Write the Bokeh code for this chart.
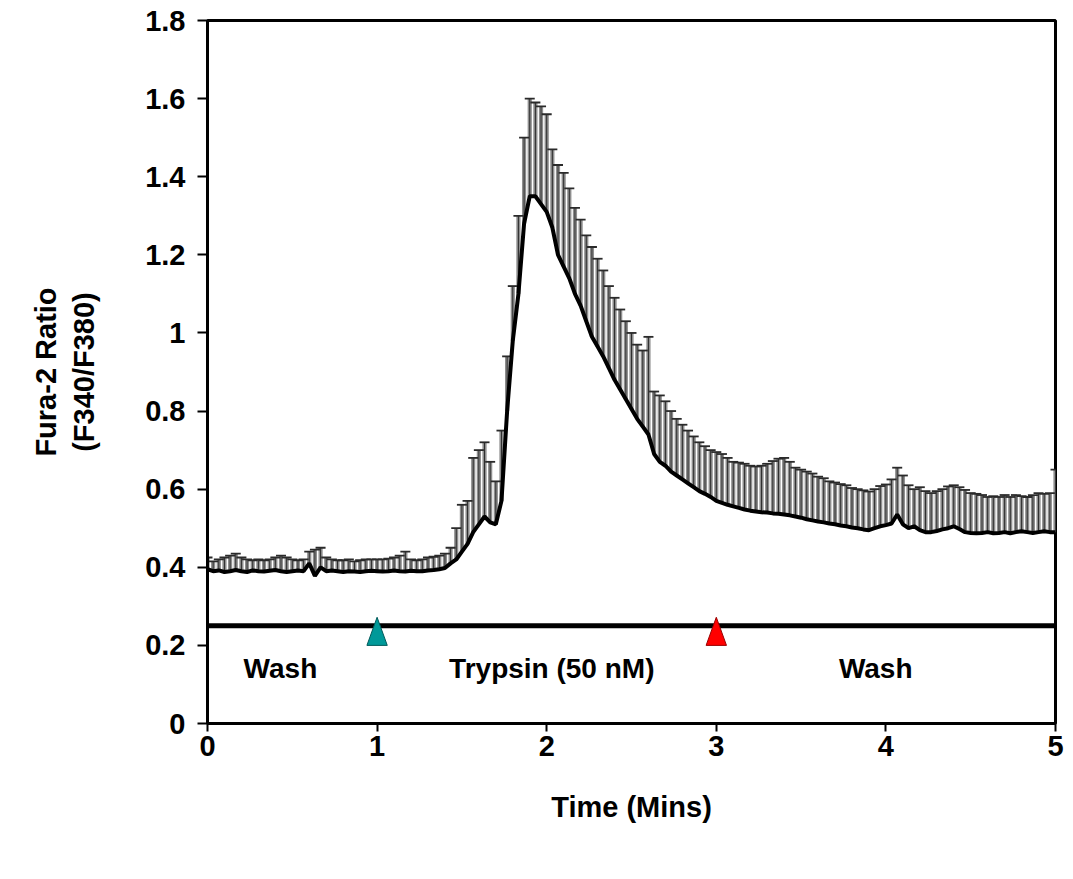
from bokeh.plotting import figure
from bokeh.models import Range1d, FixedTicker, ColumnDataSource
from bokeh.core.properties import value
from bokeh.embed import file_html
from bokeh.resources import INLINE

# ---------------- data ----------------
time_s = list(range(0, 301, 2))  # seconds

mean_ratio = [
    0.395, 0.390, 0.392, 0.388, 0.390, 0.393, 0.390, 0.388, 0.392, 0.390,
    0.389, 0.391, 0.393, 0.390, 0.388, 0.390, 0.392, 0.390, 0.410, 0.378,
    0.400, 0.390, 0.392, 0.390, 0.388, 0.390, 0.389, 0.388, 0.390, 0.391,
    0.390, 0.389, 0.390, 0.392, 0.390, 0.389, 0.391, 0.390, 0.390, 0.392,
    0.393, 0.395, 0.398, 0.410,
    0.420, 0.440, 0.460, 0.490, 0.510, 0.530, 0.515, 0.510, 0.570, 0.800,
    0.980, 1.100, 1.280, 1.350, 1.350, 1.330, 1.310, 1.270, 1.200, 1.170,
    1.140, 1.100, 1.070, 1.030, 0.990, 0.965, 0.940, 0.910, 0.880, 0.855,
    0.830, 0.805, 0.780, 0.760, 0.740, 0.690, 0.670, 0.660, 0.645, 0.635,
    0.625, 0.615, 0.605, 0.595, 0.588, 0.580, 0.570, 0.565, 0.560, 0.556,
    0.552, 0.548, 0.545, 0.543, 0.541, 0.540, 0.538, 0.537, 0.535, 0.533,
    0.530, 0.527, 0.523, 0.520, 0.517, 0.515, 0.512, 0.510, 0.507, 0.505,
    0.502, 0.500, 0.497, 0.495, 0.500, 0.505, 0.508, 0.512, 0.535, 0.510,
    0.500, 0.505, 0.495, 0.490, 0.490, 0.493, 0.497, 0.500, 0.505, 0.498,
    0.490, 0.488, 0.487, 0.488, 0.490, 0.487, 0.488, 0.490, 0.487, 0.490,
    0.492, 0.490, 0.488, 0.490, 0.492, 0.490, 0.490,
]

upper_ratio = [
    0.425, 0.415, 0.420, 0.425, 0.430, 0.435, 0.425, 0.420, 0.418, 0.420,
    0.418, 0.420, 0.425, 0.430, 0.425, 0.420, 0.418, 0.420, 0.440, 0.445,
    0.450, 0.425, 0.420, 0.418, 0.418, 0.420, 0.415, 0.418, 0.420, 0.420,
    0.420, 0.420, 0.422, 0.425, 0.430, 0.440, 0.420, 0.418, 0.420, 0.425,
    0.427, 0.430, 0.435, 0.450,
    0.500, 0.560, 0.570, 0.680, 0.700, 0.720, 0.670, 0.620, 0.750, 0.940,
    1.120, 1.300, 1.500, 1.600, 1.590, 1.580, 1.560, 1.470, 1.430, 1.410,
    1.370, 1.320, 1.290, 1.250, 1.220, 1.190, 1.160, 1.120, 1.090, 1.060,
    1.030, 1.000, 0.970, 0.955, 0.990, 0.850, 0.840, 0.825, 0.800, 0.780,
    0.765, 0.750, 0.735, 0.720, 0.710, 0.700, 0.695, 0.690, 0.680, 0.670,
    0.668, 0.665, 0.660, 0.658, 0.660, 0.665, 0.672, 0.678, 0.680, 0.670,
    0.655, 0.650, 0.645, 0.640, 0.632, 0.628, 0.620, 0.617, 0.613, 0.610,
    0.603, 0.600, 0.597, 0.594, 0.600, 0.608, 0.612, 0.625, 0.655, 0.635,
    0.610, 0.600, 0.605, 0.595, 0.590, 0.595, 0.600, 0.607, 0.610, 0.605,
    0.598, 0.590, 0.588, 0.585, 0.580, 0.582, 0.580, 0.585, 0.580, 0.585,
    0.582, 0.580, 0.585, 0.590, 0.588, 0.590, 0.650,
]

time_min = [t / 60.0 for t in time_s]

y_ticks = [0, 0.2, 0.4, 0.6, 0.8, 1, 1.2, 1.4, 1.6, 1.8]
y_tick_labels = ["0", "0.2", "0.4", "0.6", "0.8", "1", "1.2", "1.4", "1.6", "1.8"]
x_ticks = [0, 1, 2, 3, 4, 5]

bar_level = 0.25                 # treatment bar
treatment_start = [0.0]
treatment_end = [5.0]
marker_times = [1.0, 3.0]        # drug added / washed out
marker_colors = ["#009999", "#ff0000"]
marker_edges = ["#005a5a", "#990000"]

phase_labels = ["Wash", "Trypsin (50 nM)", "Wash"]
phase_label_x = [0.43, 2.03, 3.94]
phase_label_y = [0.14, 0.14, 0.14]

# ---------------- figure ----------------
FONT = "Liberation Sans"

p = figure(width=1073, height=879, output_backend="svg", toolbar_location=None,
           x_range=Range1d(0, 5), y_range=Range1d(0, 1.8),
           min_border_left=207, min_border_right=18, min_border_top=20,
           min_border_bottom=156)
p.background_fill_color = "white"
p.border_fill_color = "white"
p.outline_line_color = "black"
p.outline_line_width = 3
p.xgrid.visible = False
p.ygrid.visible = False

src = ColumnDataSource(dict(t=time_min, m=mean_ratio, u=upper_ratio))

# error bars (upper only)
p.segment(x0="t", y0="m", x1="t", y1="u", source=src,
          line_color="#8e8e8e", line_width=4.2)
p.segment(x0="t", y0="m", x1="t", y1="u", source=src,
          line_color="#2e2e2e", line_width=1)
p.scatter(x="t", y="u", source=src, marker="dash", size=10,
          line_color="#2a2a2a", line_width=1.8)

# mean trace
p.line(x="t", y="m", source=src, line_color="black", line_width=4)

# treatment bar
p.segment(x0=treatment_start, y0=[bar_level], x1=treatment_end, y1=[bar_level],
          line_color="black", line_width=5)

# triangles marking additions
half_w = 0.06
tri_base = 0.2
tri_top = 0.272
p.patches(xs=[[t - half_w, t, t + half_w] for t in marker_times],
          ys=[[tri_base, tri_top, tri_base] for _ in marker_times],
          fill_color=marker_colors, line_color=marker_edges, line_width=1)

# phase labels
p.text(x=phase_label_x, y=phase_label_y, text=phase_labels,
       text_font=value(FONT), text_font_style="bold", text_font_size="28px",
       text_color="black", text_align="center", text_baseline="middle")

# axes
p.xaxis.ticker = FixedTicker(ticks=x_ticks)
p.yaxis.ticker = FixedTicker(ticks=y_ticks)
p.yaxis.major_label_overrides = {t: l for t, l in zip(y_ticks, y_tick_labels)}
for ax in (p.xaxis, p.yaxis):
    ax.axis_line_width = 3
    ax.axis_line_color = "black"
    ax.major_tick_line_width = 2
    ax.major_tick_in = 0
    ax.minor_tick_line_color = None
    ax.major_label_text_font = FONT
    ax.major_label_text_font_style = "bold"
    ax.major_label_text_font_size = "29px"
    ax.major_label_text_color = "black"
    ax.axis_label_text_font = FONT
    ax.axis_label_text_font_style = "bold"
    ax.axis_label_text_font_size = "29px"
    ax.axis_label_text_color = "black"

p.yaxis.major_tick_out = 10
p.yaxis.major_label_standoff = 12
p.xaxis.major_tick_out = 8
p.xaxis.major_label_standoff = 4

p.xaxis.axis_label = "Time (Mins)"
p.xaxis.axis_label_standoff = 32
p.yaxis.axis_label = "Fura-2 Ratio\n(F340/F380)"
p.yaxis.axis_label_standoff = 42

open("out.html", "w").write(file_html(p, INLINE))
